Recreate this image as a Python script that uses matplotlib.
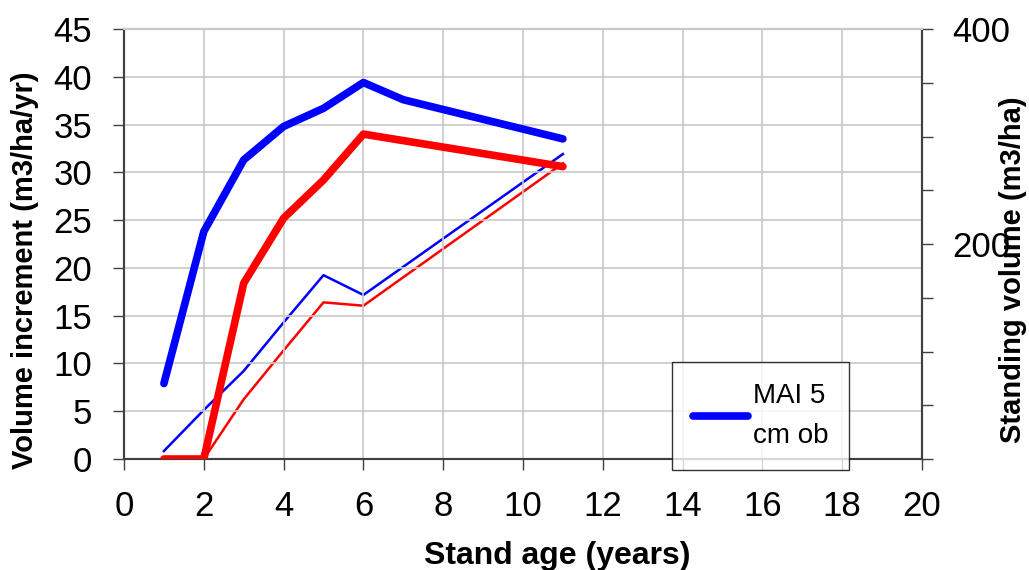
import numpy as np
import matplotlib
matplotlib.use('Agg')
import matplotlib.pyplot as plt

plt.rcParams['font.family'] = ['Liberation Sans', 'DejaVu Sans']

# stand age (years) for each series
age_mai_blue = [1, 2, 3, 4, 5, 6, 7, 11]
mai_blue = [7.9, 23.8, 31.3, 34.8, 36.7, 39.4, 37.6, 33.5]

age_mai_red = [1, 2, 3, 4, 5, 6, 11]
mai_red = [0, 0, 18.4, 25.2, 29.2, 34.0, 30.6]

# standing volume (right axis)
age_vol_blue = [1, 2, 3, 4, 5, 6, 11]
vol_blue = [7.4, 45.6, 81.9, 127, 171, 152.6, 283.7]

age_vol_red = [1, 2, 3, 4, 5, 6, 11]
vol_red = [0, 0, 55.5, 101, 145.7, 142.6, 275]

fig = plt.figure(figsize=(10.29, 5.70), dpi=100)
ax = fig.add_axes([124/1029, 1-459/570, (922-124)/1029, (459-29)/570])
ax2 = ax.twinx()

spine_col = '#404040'
grid_col = '#c8c8c8'

ax.plot(age_mai_blue, mai_blue, color='#0000ff', lw=5.5, solid_capstyle='round',
        solid_joinstyle='round', label='MAI 5\ncm ob', zorder=4)
ax.plot(age_mai_red, mai_red, color='#ff0000', lw=5.5, solid_capstyle='round',
        solid_joinstyle='round', zorder=4)
ax2.plot(age_vol_blue, vol_blue, color='#0000ff', lw=1.8)
ax2.plot(age_vol_red, vol_red, color='#ff0000', lw=1.8)

ax.set_xlim(0, 20)
ax.set_ylim(0, 45)
ax.set_xticks(np.arange(0, 21, 2))
ax.set_yticks(np.arange(0, 46, 5))
ax2.set_ylim(0, 400)
ax2.set_yticks([200, 400])
ax2.set_yticks(np.arange(0, 401, 50), minor=True)

ax.grid(True, color=grid_col, lw=1.2)
ax.set_axisbelow(True)
ax.set_zorder(ax2.get_zorder() + 1)
ax.patch.set_visible(False)

for a in (ax, ax2):
    for s in a.spines.values():
        s.set_color(spine_col)
        s.set_linewidth(1.5)
ax.spines['top'].set_color(grid_col)
ax2.spines['top'].set_color(grid_col)

ax.tick_params(axis='x', labelsize=25, length=8, width=1, color=spine_col, pad=14)
ax.tick_params(axis='y', labelsize=25, length=8, width=1, color=spine_col, pad=15)
ax2.tick_params(axis='y', which='both', labelsize=25, length=8, width=1, color=spine_col, pad=14)

ax.set_xlabel('Stand age (years)', fontsize=23, fontweight='bold')
ax.set_ylabel('Volume increment (m3/ha/yr)', fontsize=21, fontweight='bold')
ax2.set_ylabel('Standing volume (m3/ha)', fontsize=21, fontweight='bold')
ax.xaxis.set_label_coords(0.543, -0.19)
ax.yaxis.set_label_coords(-0.107, 0.44)
ax2.yaxis.set_label_coords(1.096, 0.44)

leg = ax.legend(loc='lower left', bbox_to_anchor=(672/1029, 1-470/570), bbox_transform=fig.transFigure,
                fontsize=20, frameon=True, fancybox=False, handlelength=2.0, borderpad=0.75,
                handletextpad=0.15, borderaxespad=0)
leg.get_frame().set_edgecolor('black')
leg.get_frame().set_linewidth(1)
leg.set_zorder(10)
for t in leg.get_texts():
    t.set_ha('left')
    t.set_linespacing(1.7)

fig.savefig('out.png', dpi=100)
